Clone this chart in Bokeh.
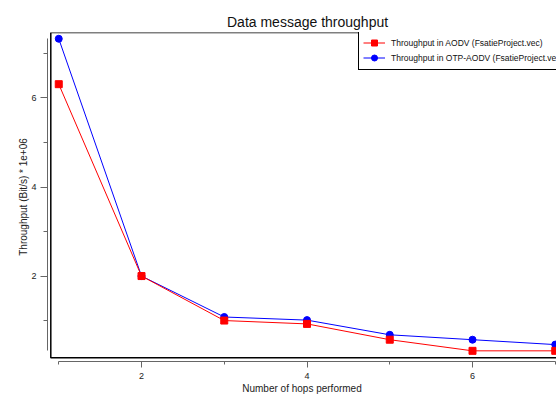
from bokeh.plotting import figure
from bokeh.models import (Range1d, SingleIntervalTicker, BoxAnnotation, Legend,
                          LegendItem)
from bokeh.embed import file_html
from bokeh.resources import INLINE

# ---------------- data ----------------
hops = [1, 2, 3, 4, 5, 6, 7]
aodv = [6.31, 2.00, 1.00, 0.925, 0.57, 0.32, 0.32]
otp_aodv = [7.33, 2.00, 1.08, 1.01, 0.68, 0.57, 0.46]
title_text = "Data message throughput"
x_label = "Number of hops performed"
y_label = "Throughput (Bit/s) * 1e+06"
aodv_name = "Throughput in AODV (FsatieProject.vec)"
otp_name = "Throughput in OTP-AODV (FsatieProject.vec)"

# ---------------- layout ----------------
W, H = 556, 396
BL, BR, BT, BB = 47, 0, 32, 34
FW = W - BL - BR
FH = H - BT - BB

pad_l, pad_r, pad_t, pad_b = 11.25, 1.25, 6.3, 10.7
xmin, xmax = min(hops), max(hops)
ymin = min(min(aodv), min(otp_aodv))
ymax = max(max(aodv), max(otp_aodv))
sx = (FW - pad_l - pad_r) / (xmax - xmin)
sy = (FH - pad_t - pad_b) / (ymax - ymin)
x0, x1 = xmin - pad_l / sx, xmax + pad_r / sx
y0, y1 = ymin - pad_b / sy, ymax + pad_t / sy

SANS = "Liberation Sans"
AX = "#666666"

p = figure(width=W, height=H, x_range=Range1d(x0, x1), y_range=Range1d(y0, y1),
           output_backend="svg", toolbar_location=None, title=title_text,
           min_border_left=BL, min_border_right=BR, min_border_top=BT,
           min_border_bottom=BB)
p.outline_line_color = None
p.xgrid.visible = False
p.ygrid.visible = False
p.background_fill_color = "white"
p.border_fill_color = "white"

p.title.text_font = SANS
p.title.text_font_size = "14px"
p.title.text_font_style = "normal"
p.title.text_color = "#111111"
p.title.align = "left"
p.title.offset = 179.5
p.title.standoff = 6

# plot box (open to the right like the cropped original)
box = BoxAnnotation(left=x0 + 3.3 / sx, right=x1 + 60 / sx,
                    bottom=y0 + 3.7 / sy, top=y1,
                    fill_color=None, fill_alpha=0,
                    line_color="black", line_alpha=1.0, line_width=1.5)
p.add_layout(box)

# series
b_line = p.line(hops, otp_aodv, line_color="#0000ff", line_width=1)
b_pts = p.scatter(hops, otp_aodv, marker="circle", size=7,
                  fill_color="#0000ff", line_color="#0000ff")
r_line = p.line(hops, aodv, line_color="#ff0000", line_width=1)
r_pts = p.scatter(hops, aodv, marker="square", size=7,
                  fill_color="#ff0000", line_color="#ff0000")

# axes
for ax in (p.xaxis[0], p.yaxis[0]):
    ax.ticker = SingleIntervalTicker(interval=2, num_minor_ticks=2)
    ax.axis_line_color = AX
    ax.major_tick_line_color = AX
    ax.minor_tick_line_color = AX
    ax.major_tick_in = 0
    ax.minor_tick_in = 0
    ax.major_label_text_font = SANS
    ax.major_label_text_font_size = "9px"
    ax.major_label_text_color = "#222222"
    ax.axis_label_text_font = SANS
    ax.axis_label_text_font_size = "10px"
    ax.axis_label_text_font_style = "normal"
    ax.axis_label_text_color = "#222222"

xa = p.xaxis[0]
xa.bounds = (xmin, xmax)
xa.major_tick_out = 6
xa.minor_tick_out = 3
xa.major_label_standoff = 5
xa.axis_label = x_label
xa.axis_label_standoff = 1

ya = p.yaxis[0]
ya.bounds = (ymin, ymax)
ya.major_tick_out = 7
ya.minor_tick_out = 4
ya.major_label_standoff = 4
ya.axis_label = y_label
ya.axis_label_standoff = -1

# legend
legend = Legend(items=[LegendItem(label=aodv_name, renderers=[r_line, r_pts]),
                       LegendItem(label=otp_name, renderers=[b_line, b_pts])],
                location=(311, FH - 39), orientation="vertical",
                padding=4, spacing=0, margin=0,
                glyph_width=22, glyph_height=15, label_height=15,
                label_standoff=6, label_text_font=SANS,
                label_text_font_size="8.5px", label_text_color="#111111",
                border_line_color="black", border_line_alpha=1.0,
                border_line_width=1.5,
                background_fill_color="white", background_fill_alpha=1)
p.add_layout(legend)

open("out.html", "w").write(file_html(p, INLINE))
